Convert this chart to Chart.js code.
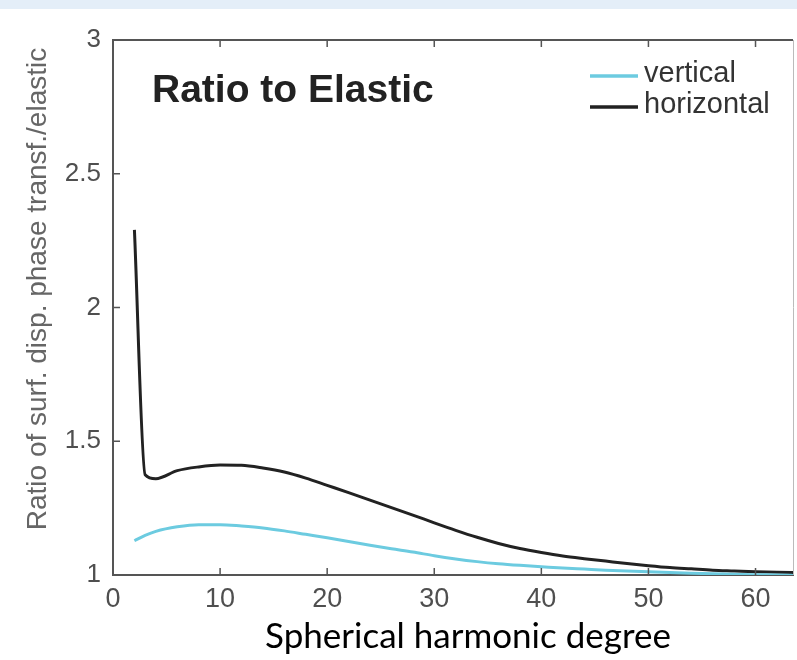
<!DOCTYPE html>
<html>
<head>
<meta charset="utf-8">
<script src="https://cdn.jsdelivr.net/npm/chart.js@4/dist/chart.umd.min.js"></script>
<style>
  html, body { margin: 0; padding: 0; background: #fff; }
  #wrap { width: 797px; height: 660px; }
</style>
</head>
<body>
<div id="wrap"><canvas id="ratioChart" width="797" height="660"></canvas></div>
<script>
// spherical harmonic degree (x) and ratio values
const degrees = [2, 3, 4, 6, 8, 10, 12, 14, 16, 18, 20, 22, 24, 26, 28, 30, 32, 34, 36, 38,
  40, 42, 44, 46, 48, 50, 52, 54, 56, 58, 60, 62, 64];
const horizontalRatio = [2.29, 1.375, 1.360, 1.390, 1.404, 1.411, 1.410, 1.400, 1.385, 1.362,
  1.335, 1.308, 1.280, 1.252, 1.224, 1.195, 1.167, 1.141, 1.118, 1.099,
  1.084, 1.071, 1.061, 1.052, 1.043, 1.035, 1.028, 1.023, 1.018, 1.015, 1.012, 1.010, 1.009];
const verticalRatio = [1.128, 1.148, 1.163, 1.180, 1.188, 1.188, 1.183, 1.176, 1.165, 1.152,
  1.139, 1.125, 1.111, 1.098, 1.086, 1.072, 1.060, 1.050, 1.042, 1.036,
  1.031, 1.026, 1.022, 1.018, 1.015, 1.012, 1.009, 1.007, 1.005, 1.003, 1.001, 1.000, 0.998];
const yTickValues = [1, 1.5, 2, 2.5, 3];
const seriesLabels = ['vertical', 'horizontal'];
const xTitle = 'Spherical harmonic degree';
const yTitle = 'Ratio of surf. disp. phase transf./elastic';
const panelTitle = 'Ratio to Elastic';

const colors = { cyan: '#6ccbe0', black: '#222222', axis: '#555555', tick: '#4f4f4f' };

const toPoints = ys => degrees.map((d, i) => ({ x: d, y: ys[i] }));

// frame, inward ticks, in-plot title, legend and axis titles
const decor = {
  id: 'decor',
  beforeDraw(chart) {
    const ctx = chart.ctx;
    ctx.save();
    ctx.fillStyle = '#ffffff';
    ctx.fillRect(0, 0, chart.width, chart.height);
    ctx.fillStyle = '#e4eef8';
    ctx.fillRect(0, 0, chart.width, 9);
    ctx.restore();
  },
  afterDraw(chart) {
    const { ctx, chartArea: a, scales: { x, y } } = chart;
    ctx.save();
    // box top + right
    ctx.strokeStyle = colors.axis;
    ctx.lineWidth = 2;
    ctx.beginPath();
    ctx.moveTo(a.left, a.top); ctx.lineTo(a.right, a.top);
    ctx.stroke();
    ctx.strokeStyle = '#bbbbbb';
    ctx.lineWidth = 1;
    ctx.beginPath();
    ctx.moveTo(a.right + 0.5, a.top); ctx.lineTo(a.right + 0.5, a.bottom);
    ctx.stroke();

    // inward ticks
    ctx.strokeStyle = colors.axis;
    ctx.lineWidth = 1.5;
    ctx.beginPath();
    x.ticks.forEach(t => {
      if (t.value === 0) return;
      const px = x.getPixelForValue(t.value);
      ctx.moveTo(px, a.bottom); ctx.lineTo(px, a.bottom - 7);
      ctx.moveTo(px, a.top); ctx.lineTo(px, a.top + 7);
    });
    y.ticks.forEach(t => {
      if (t.value === 1) return;
      const py = y.getPixelForValue(t.value);
      ctx.moveTo(a.left, py); ctx.lineTo(a.left + 7, py);
    });
    ctx.stroke();

    // in-plot title
    ctx.fillStyle = '#222';
    ctx.font = 'bold 39px "Liberation Sans", Arial, sans-serif';
    ctx.textAlign = 'left';
    ctx.textBaseline = 'alphabetic';
    ctx.fillText(panelTitle, a.left + 39, a.top + 62);

    // legend
    ctx.font = '29px "Liberation Sans", Arial, sans-serif';
    ctx.textBaseline = 'middle';
    chart.data.datasets.forEach((ds, i) => {
      const ly = a.top + 36 + i * 31;
      ctx.strokeStyle = ds.borderColor;
      ctx.lineWidth = 3.5;
      ctx.beginPath();
      ctx.moveTo(a.left + 477, ly); ctx.lineTo(a.left + 525, ly);
      ctx.stroke();
      ctx.fillStyle = '#333';
      ctx.fillText(ds.label, a.left + 531, ly - 2);
    });

    // axis titles
    ctx.fillStyle = '#000';
    ctx.font = '35px Lato, "Open Sans", sans-serif';
    ctx.textAlign = 'center';
    ctx.fillText(xTitle, a.left + 355, 637);

    ctx.fillStyle = '#666';
    ctx.font = '28px "Liberation Sans", Arial, sans-serif';
    ctx.translate(38, 289);
    ctx.rotate(-Math.PI / 2);
    ctx.fillText(yTitle, 0, 0);
    ctx.restore();
  }
};

new Chart(document.getElementById('ratioChart'), {
  type: 'line',
  data: {
    datasets: [
      {
        label: seriesLabels[0],
        data: toPoints(verticalRatio),
        borderColor: colors.cyan,
        borderWidth: 3,
        pointRadius: 0,
        cubicInterpolationMode: 'monotone'
      },
      {
        label: seriesLabels[1],
        data: toPoints(horizontalRatio),
        borderColor: colors.black,
        borderWidth: 3,
        pointRadius: 0,
        cubicInterpolationMode: 'monotone'
      }
    ]
  },
  options: {
    responsive: false,
    animation: false,
    layout: { padding: { top: 40, right: 4, left: 0, bottom: 0 } },
    plugins: { legend: { display: false }, tooltip: { enabled: false } },
    scales: {
      x: {
        type: 'linear',
        min: 0, max: 63.5,
        border: { display: true, color: colors.axis, width: 2 },
        grid: { drawOnChartArea: false, drawTicks: false },
        ticks: {
          stepSize: 10, includeBounds: false, padding: 8,
          color: colors.tick,
          font: { family: '"Liberation Sans", Arial, sans-serif', size: 27 }
        },
        afterFit: s => { s.height = 85; }
      },
      y: {
        min: 1, max: 3,
        border: { display: true, color: colors.axis, width: 2 },
        grid: { drawOnChartArea: false, drawTicks: false },
        afterBuildTicks: s => { s.ticks = yTickValues.map(v => ({ value: v })); },
        ticks: {
          padding: 12,
          color: colors.tick,
          callback: v => String(v),
          font: { family: '"Liberation Sans", Arial, sans-serif', size: 26 }
        },
        afterFit: s => { s.width = 113; }
      }
    }
  },
  plugins: [decor]
});
</script>
</body>
</html>
